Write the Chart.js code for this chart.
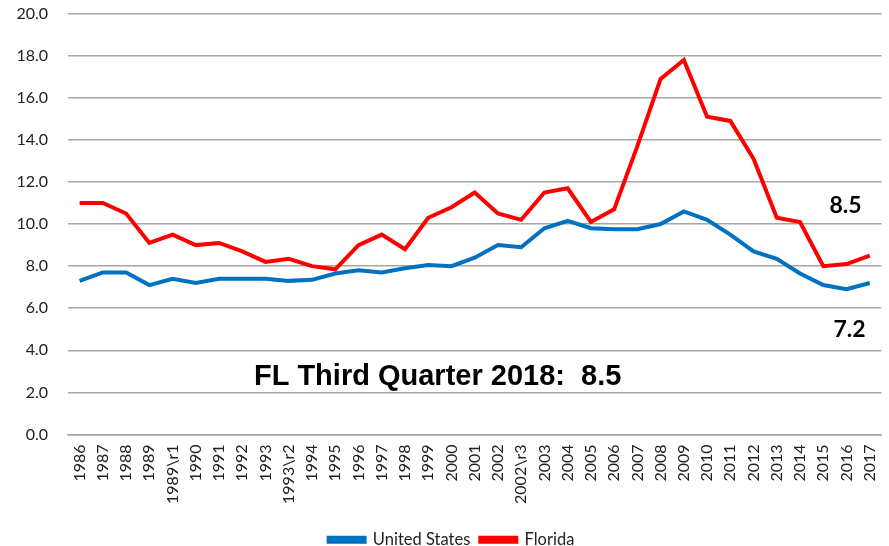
<!DOCTYPE html>
<html>
<head>
<meta charset="utf-8">
<script src="https://cdn.jsdelivr.net/npm/chart.js@4/dist/chart.umd.min.js"></script>
<style>
  html, body { margin: 0; padding: 0; background: #fff; }
  #wrap { width: 889px; height: 546px; }
</style>
</head>
<body>
<div id="wrap"><canvas id="myChart" width="889" height="546"></canvas></div>
<script>
// Years (with revision markers, as in the source)
const years = ['1986', '1987', '1988', '1989', '1989\\r1', '1990', '1991', '1992', '1993', '1993\\r2',
    '1994', '1995', '1996', '1997', '1998', '1999', '2000', '2001', '2002', '2002\\r3',
    '2003', '2004', '2005', '2006', '2007', '2008', '2009', '2010', '2011', '2012',
    '2013', '2014', '2015', '2016', '2017'];

// United States
const usValues = [7.3, 7.7, 7.7, 7.1, 7.4, 7.2, 7.4, 7.4, 7.4, 7.3,
    7.35, 7.65, 7.8, 7.7, 7.9, 8.05, 8.0, 8.4, 9.0, 8.9,
    9.8, 10.15, 9.8, 9.75, 9.75, 10.0, 10.6, 10.2, 9.5, 8.7,
    8.35, 7.65, 7.1, 6.9, 7.2];

// Florida
const flValues = [11.0, 11.0, 10.5, 9.1, 9.5, 9.0, 9.1, 8.7, 8.2, 8.35,
    8.0, 7.85, 9.0, 9.5, 8.8, 10.3, 10.8, 11.5, 10.5, 10.2,
    11.5, 11.7, 10.1, 10.7, 13.7, 16.9, 17.8, 15.1, 14.9, 13.1,
    10.3, 10.1, 8.0, 8.1, 8.5];

const yTicks = [0, 2, 4, 6, 8, 10, 12, 14, 16, 18, 20];

const fontName = 'Lato, "Open Sans", sans-serif';

// Textos sobre la gráfica
const notes = {
    flLast: '8.5',
    usLast: '7.2',
    headline: 'FL Third Quarter 2018:  8.5'
};

const notePlugin = {
    id: 'notes',
    afterDatasetsDraw(chart) {
        const ctx = chart.ctx;
        const x = chart.scales.x;
        const y = chart.scales.y;
        ctx.save();
        ctx.fillStyle = '#000';
        ctx.textAlign = 'center';
        ctx.textBaseline = 'middle';
        ctx.font = 'bold 23px ' + fontName;
        ctx.fillText(notes.flLast, x.getPixelForValue(years.length - 2) - 1, y.getPixelForValue(10.9));
        ctx.fillText(notes.usLast, x.getPixelForValue(years.length - 2) + 3, y.getPixelForValue(5.0));
        ctx.textAlign = 'left';
        ctx.font = 'bold 29px "Liberation Sans", Arial, sans-serif';
        ctx.fillText(notes.headline, x.getPixelForValue(7.5), y.getPixelForValue(2.75));
        ctx.restore();
    }
};

var ctx = document.getElementById('myChart').getContext('2d');
var chart = new Chart(ctx, {
    type: 'line',
    data: {
        labels: years,
        datasets: [{
            label: 'United States',
            data: usValues,
            borderColor: '#0070C0',
            backgroundColor: '#0070C0',
            borderWidth: 4,
            pointRadius: 0,
            tension: 0
        }, {
            label: 'Florida',
            data: flValues,
            borderColor: '#FF0000',
            backgroundColor: '#FF0000',
            borderWidth: 4,
            pointRadius: 0,
            tension: 0
        }]
    },
    options: {
        responsive: false,
        animation: false,
        layout: { padding: { left: 17, right: 3, top: 0, bottom: -12 } },
        plugins: {
            tooltip: { enabled: false },
            legend: {
                position: 'bottom',
                labels: {
                    boxWidth: 36,
                    boxHeight: 4,
                    padding: 10,
                    color: '#222',
                    font: { family: fontName, size: 16.5 }
                }
            }
        },
        scales: {
            x: {
                offset: true,
                grid: { display: false, drawTicks: true, tickLength: 10, tickColor: 'rgba(0,0,0,0)' },
                border: { color: '#a6a6a6', width: 1.5 },
                afterFit(axis) { axis.height = 87; },
                ticks: {
                    autoSkip: false,
                    maxRotation: 90,
                    minRotation: 90,
                    padding: 0,
                    color: '#222',
                    font: { family: fontName, size: 16 }
                }
            },
            y: {
                min: 0,
                max: 20,
                afterBuildTicks(axis) {
                    axis.ticks = yTicks.map(v => ({ value: v }));
                },
                afterFit(axis) { axis.width = 51; },
                grid: { color: '#a6a6a6', lineWidth: 1.5, drawTicks: true, tickLength: 16, tickColor: 'rgba(0,0,0,0)' },
                border: { display: false },
                ticks: {
                    padding: 4,
                    color: '#222',
                    font: { family: fontName, size: 16 },
                    callback: v => Number(v).toFixed(1)
                }
            }
        }
    },
    plugins: [notePlugin]
});
</script>
</body>
</html>
